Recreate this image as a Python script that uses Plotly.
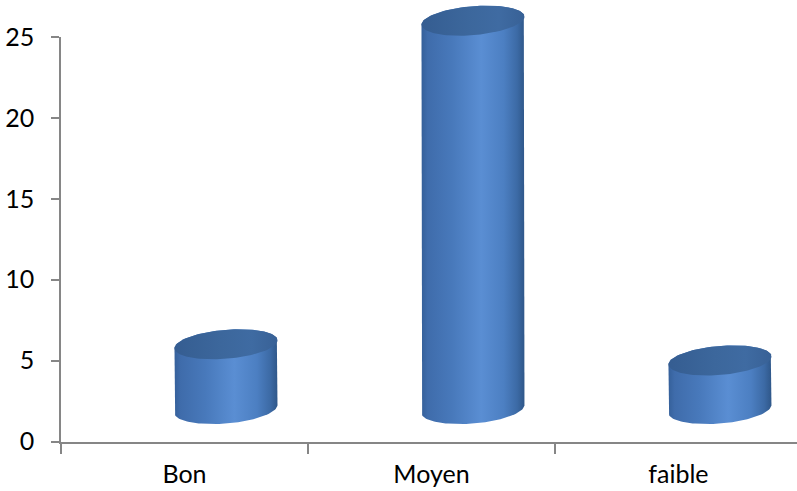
import numpy as np
import plotly.graph_objects as go

# --- data -------------------------------------------------------------
categories = ["Bon", "Moyen", "faible"]
values = [4, 24, 3]
y_ticks = [0, 5, 10, 15, 20, 25]

# --- page geometry (pixels) ---------------------------------------------
W, H = 797, 491
plot_left, plot_right = 61, 797
plot_top, plot_bottom = 37, 441.5

x_range = [-0.5, 2.48]
y_range = [0, 25]
ppu_x = (plot_right - plot_left) / (x_range[1] - x_range[0])
ppu_y = (plot_bottom - plot_top) / (y_range[1] - y_range[0])

# overlay axes spanning the whole page with the same scale as the main axes
x2_range = [x_range[0] - plot_left / ppu_x, x_range[1] + (W - plot_right) / ppu_x]
y2_range = [y_range[0] - (H - plot_bottom) / ppu_y, y_range[1] + plot_top / ppu_y]

# cylinder look (3D depth shift, radius, ellipse flattening, tilt)
depth_dx = 41.5 / ppu_x
depth_dy = 32.5 / ppu_y
radius = 51.5 / ppu_x
ellipse_b = 14.5 / ppu_y
tilt = 4.0 / ppu_y

body_scale = [
    [0.0, "#35609a"], [0.06, "#3f6cab"], [0.3, "#4879bb"],
    [0.58, "#5a8ed3"], [0.8, "#4c7fc2"], [0.93, "#3c6aa5"], [1.0, "#2f5789"],
]
top_scale = [[0.0, "#355d91"], [0.45, "#3c679c"], [0.75, "#3f6ba2"], [1.0, "#386196"]]


def ellipse(cx, cy, t):
    return cx + radius * np.cos(t), cy + ellipse_b * np.sin(t) + tilt * np.cos(t)


fig = go.Figure()

for i, (cat, v) in enumerate(zip(categories, values)):
    cx = i + depth_dx
    yb = depth_dy
    yt = depth_dy + v

    # body: left side, front half of the base, right side, back half of the top
    tb = np.linspace(np.pi, 2 * np.pi, 60)
    bx, by = ellipse(cx, yb, tb)
    tt = np.linspace(0, np.pi, 60)
    tx, ty = ellipse(cx, yt, tt)
    xs = np.concatenate([[cx - radius], bx, [cx + radius], tx])
    ys = np.concatenate([[yt - tilt], by, [yt + tilt], ty])
    fig.add_trace(go.Scatter(
        x=xs, y=ys, xaxis="x2", yaxis="y2", mode="lines", fill="toself",
        line=dict(width=0, color="rgba(0,0,0,0)"),
        fillgradient=dict(type="horizontal", colorscale=body_scale),
        hoverinfo="skip", showlegend=False,
    ))

    # top cap
    tc = np.linspace(0, 2 * np.pi, 120)
    cxs, cys = ellipse(cx, yt, tc)
    fig.add_trace(go.Scatter(
        x=cxs, y=cys, xaxis="x2", yaxis="y2", mode="lines", fill="toself",
        line=dict(width=0, color="rgba(0,0,0,0)"),
        fillgradient=dict(type="horizontal", colorscale=top_scale),
        name=cat, hovertemplate=f"{cat}: {v}<extra></extra>", showlegend=False,
    ))

# invisible trace to register the category axis
fig.add_trace(go.Scatter(x=categories, y=[None] * len(categories), mode="markers",
                         showlegend=False, hoverinfo="skip"))

axis_color = "#868686"
font = dict(family="Lato, 'Open Sans', sans-serif", size=25, color="#000000")

fig.update_layout(
    width=W, height=H,
    margin=dict(l=0, r=0, t=0, b=0),
    paper_bgcolor="white", plot_bgcolor="rgba(0,0,0,0)",
    font=font,
    xaxis=dict(
        type="category", categoryorder="array", categoryarray=categories,
        range=x_range, domain=[plot_left / W, plot_right / W],
        anchor="y", showgrid=False, zeroline=False, automargin=False,
        showline=True, linecolor=axis_color, linewidth=1.5,
        ticks="outside", tickson="boundaries", ticklen=11,
        tickcolor=axis_color, tickwidth=1.5, ticklabelstandoff=10,
        tickfont=font,
    ),
    yaxis=dict(
        range=y_range, domain=[(H - plot_bottom) / H, (H - plot_top) / H],
        anchor="x", showgrid=False, zeroline=False, automargin=False,
        showline=True, linecolor=axis_color, linewidth=1.5,
        ticks="outside", ticklen=8, tickcolor=axis_color, tickwidth=1.5,
        tickmode="array", tickvals=y_ticks, ticklabelstandoff=12,
        tickfont=font,
    ),
    xaxis2=dict(range=x2_range, domain=[0, 1], anchor="y2", visible=False,
                fixedrange=True, automargin=False),
    yaxis2=dict(range=y2_range, domain=[0, 1], anchor="x2", visible=False,
                fixedrange=True, automargin=False),
)

fig.write_html("out.html")
